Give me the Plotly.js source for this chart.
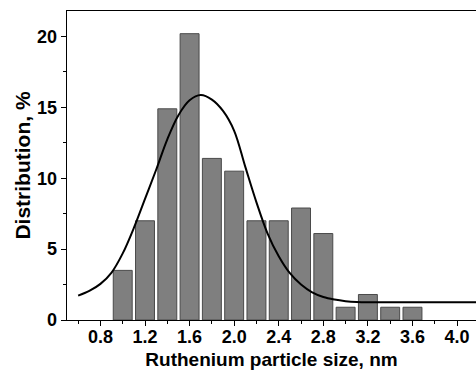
<!DOCTYPE html>
<html>
<head>
<meta charset="utf-8">
<script src="https://cdn.plot.ly/plotly-3.0.1.min.js"></script>
<style>html,body{margin:0;padding:0;background:#fff;}#chart{width:476px;height:373px;}</style>
</head>
<body>
<div id="chart"></div>
<script>
// Histogram bins (particle size, nm) and distribution (%)
var binCenters = [1.0, 1.2, 1.4, 1.6, 1.8, 2.0, 2.2, 2.4, 2.6, 2.8, 3.0, 3.2, 3.4, 3.6];
var distribution = [3.5, 7.0, 14.9, 20.2, 11.4, 10.5, 7.0, 7.0, 7.9, 6.1, 0.9, 1.8, 0.9, 0.9];

// Fitted curve
var fitX = [0.6, 0.7, 0.8, 0.9, 1.0, 1.1, 1.2, 1.3, 1.4, 1.5, 1.6, 1.7, 1.8, 1.9, 2.0, 2.1, 2.2, 2.3, 2.4, 2.5, 2.6, 2.7, 2.8, 2.9, 3.0, 3.1, 3.2, 3.4, 3.6, 3.8, 4.0, 4.2];
var fitY = [1.72, 2.05, 2.55, 3.35, 4.7, 6.5, 8.55, 10.6, 12.75, 14.45, 15.5, 15.87, 15.55, 14.75, 13.35, 10.8, 8.3, 6.1, 4.5, 3.3, 2.5, 1.95, 1.62, 1.44, 1.33, 1.27, 1.25, 1.25, 1.25, 1.25, 1.25, 1.25];

var xTickVals = [0.8, 1.2, 1.6, 2.0, 2.4, 2.8, 3.2, 3.6, 4.0];
var xTickText = ["0.8", "1.2", "1.6", "2.0", "2.4", "2.8", "3.2", "3.6", "4.0"];
var yTickVals = [0, 5, 10, 15, 20];
var yTickText = ["0", "5", "10", "15", "20"];

var font = "Liberation Sans, Arial, sans-serif";
function bold(a) { return a.map(function (s) { return "<b>" + s + "</b>"; }); }

var traces = [
  {
    type: "bar",
    x: binCenters,
    y: distribution,
    width: 0.17,
    marker: {color: "#7f7f7f", line: {color: "#4a4a4a", width: 1}},
    hoverinfo: "skip"
  },
  {
    type: "scatter",
    mode: "lines",
    x: fitX,
    y: fitY,
    line: {color: "#000", width: 2, shape: "spline", smoothing: 1},
    hoverinfo: "skip"
  }
];

var layout = {
  width: 476,
  height: 373,
  margin: {l: 67, r: 0, t: 11, b: 53},
  paper_bgcolor: "#fff",
  plot_bgcolor: "#fff",
  showlegend: false,
  font: {family: font, color: "#000"},
  xaxis: {
    range: [0.5, 4.17],
    tickmode: "array",
    tickvals: xTickVals,
    ticktext: bold(xTickText),
    ticks: "outside",
    ticklen: 5,
    tickwidth: 1,
    tickcolor: "#000",
    ticklabelstandoff: -5,
    minor: {tickmode: "linear", tick0: 0.6, dtick: 0.4, ticks: "outside", ticklen: 3, tickcolor: "#000", showgrid: false},
    showline: true,
    linecolor: "#000",
    linewidth: 1.3,
    mirror: true,
    showgrid: false,
    zeroline: false,
    tickfont: {family: font, size: 18, color: "#000"},
    title: {text: "<b>Ruthenium particle size, nm</b>", font: {family: font, size: 19, color: "#000"}, standoff: 6},
    fixedrange: true
  },
  yaxis: {
    range: [0, 21.8],
    tickmode: "array",
    tickvals: yTickVals,
    ticktext: bold(yTickText),
    ticks: "outside",
    ticklen: 5,
    tickwidth: 1,
    tickcolor: "#000",
    minor: {tickmode: "linear", tick0: 2.5, dtick: 5, ticks: "outside", ticklen: 3, tickcolor: "#000", showgrid: false},
    showline: true,
    linecolor: "#000",
    linewidth: 1.3,
    mirror: false,
    showgrid: false,
    zeroline: false,
    tickfont: {family: font, size: 18, color: "#000"},
    title: {text: "<b>Distribution, %</b>", font: {family: font, size: 21, color: "#000"}, standoff: 0},
    fixedrange: true
  }
};

Plotly.newPlot("chart", traces, layout, {displayModeBar: false, staticPlot: true});
</script>
</body>
</html>
